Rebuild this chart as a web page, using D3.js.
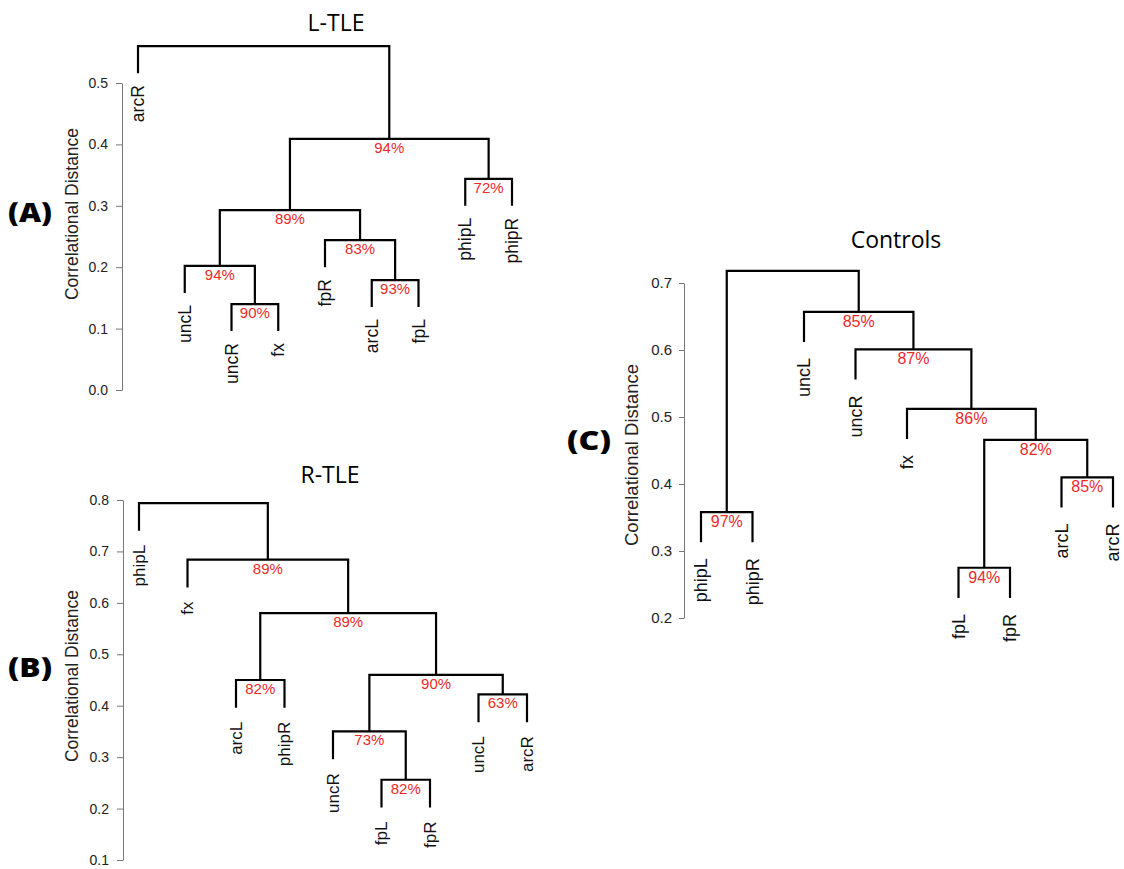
<!DOCTYPE html>
<html>
<head>
<meta charset="utf-8">
<script src="https://cdn.jsdelivr.net/npm/d3@7"></script>
<style>
  body { margin: 0; background: #fff; }
  svg text { font-family: "Liberation Sans", Arial, sans-serif; }
</style>
</head>
<body>
<svg id="chart" width="1124" height="869"></svg>
<script>
/*    ========    DATA    =========    */

// Merges follow hclust: a string is a leaf, a number points to an earlier merge (1-based)

// L-TLE
var ltleLeaves = ["arcR", "uncL", "uncR", "fx", "fpR", "arcL", "fpL", "phipL", "phipR"];
var ltleMerges = [["uncR", "fx"], ["uncL", 1], ["arcL", "fpL"], ["fpR", 3], [2, 4], ["phipL", "phipR"], [5, 6], ["arcR", 7]];
var ltleHeights = [0.140, 0.202, 0.179, 0.244, 0.293, 0.344, 0.409, 0.560];
var ltleSupport = ["90%", "94%", "93%", "83%", "89%", "72%", "94%", ""];
var ltleTicks = [0.0, 0.1, 0.2, 0.3, 0.4, 0.5];

// R-TLE
var rtleLeaves = ["phipL", "fx", "arcL", "phipR", "uncR", "fpL", "fpR", "uncL", "arcR"];
var rtleMerges = [["fpL", "fpR"], ["uncR", 1], ["uncL", "arcR"], [2, 3], ["arcL", "phipR"], [5, 4], ["fx", 6], ["phipL", 7]];
var rtleHeights = [0.256, 0.350, 0.422, 0.460, 0.450, 0.580, 0.684, 0.794];
var rtleSupport = ["82%", "73%", "63%", "90%", "82%", "89%", "89%", ""];
var rtleTicks = [0.1, 0.2, 0.3, 0.4, 0.5, 0.6, 0.7, 0.8];

// Controls
var ctrlLeaves = ["phipL", "phipR", "uncL", "uncR", "fx", "fpL", "fpR", "arcL", "arcR"];
var ctrlMerges = [["phipL", "phipR"], ["fpL", "fpR"], ["arcL", "arcR"], [2, 3], ["fx", 4], ["uncR", 5], ["uncL", 6], [1, 7]];
var ctrlHeights = [0.358, 0.275, 0.410, 0.466, 0.512, 0.601, 0.657, 0.718];
var ctrlSupport = ["97%", "94%", "85%", "82%", "86%", "87%", "85%", ""];
var ctrlTicks = [0.2, 0.3, 0.4, 0.5, 0.6, 0.7];

/*    ========    SETTINGS    =========    */

var svg = d3.select("#chart");

var RED = "#ec2a2a";

var panels = [
    {
        leaves: ltleLeaves, merges: ltleMerges, heights: ltleHeights, support: ltleSupport, ticks: ltleTicks,
        title: "L-TLE", tag: "(A)",
        xRange: [138, 512], yRange: [390, 83], axisX: 122, hang: 0.044, labelGap: 12,
        titlePos: [336, 31], tagPos: [8, 222], ylabPos: [72, 214],
        leafFont: 17.5, pctFont: 15, tickFont: 14, tickSize: 6, tickPad: 8, ylabFont: 17.5
    },
    {
        leaves: rtleLeaves, merges: rtleMerges, heights: rtleHeights, support: rtleSupport, ticks: rtleTicks,
        title: "R-TLE", tag: "(B)",
        xRange: [139, 527], yRange: [860, 500], axisX: 123, hang: 0.054, labelGap: 14,
        titlePos: [330, 483], tagPos: [8, 677], ylabPos: [72, 676],
        leafFont: 17, pctFont: 15, tickFont: 14, tickSize: 6, tickPad: 8, ylabFont: 17.5
    },
    {
        leaves: ctrlLeaves, merges: ctrlMerges, heights: ctrlHeights, support: ctrlSupport, ticks: ctrlTicks,
        title: "Controls", tag: "(C)",
        xRange: [701, 1113], yRange: [618, 283], axisX: 684, hang: 0.045, labelGap: 16,
        titlePos: [896, 248], tagPos: [567, 450], ylabPos: [632, 455],
        leafFont: 18, pctFont: 16, tickFont: 15, tickSize: 5, tickPad: 7, ylabFont: 18.5
    }
];

/*    ========    FUNCTIONS    =========    */

function drawPanel(p) {
    var x = d3.scalePoint().domain(p.leaves).range(p.xRange);
    var y = d3.scaleLinear()
        .domain([p.ticks[0], p.ticks[p.ticks.length - 1]])
        .range(p.yRange);

    var g = svg.append("g");

    // == Build the node table from the merge list == //
    var nodes = [];
    var leafTop = {};   // height of the merge each leaf hangs from

    p.merges.forEach(function(m, i) {
        var h = p.heights[i];
        var ends = m.map(function(c) {
            if (typeof c === "number") {
                return { x: nodes[c - 1].x, y: y(p.heights[c - 1]) };
            }
            leafTop[c] = h;
            return { x: x(c), y: y(h - p.hang) };
        });
        nodes.push({
            x: (ends[0].x + ends[1].x) / 2,
            y: y(h),
            ends: ends,
            label: p.support[i]
        });
    });

    // == Branches == //
    g.selectAll("path.branch")
        .data(nodes).enter()
        .append("path")
        .attr("class", "branch")
        .attr("fill", "none")
        .attr("stroke", "#000")
        .attr("stroke-width", 2.2)
        .attr("d", function(d) {
            return "M" + d.ends[0].x + "," + d.ends[0].y +
                "V" + d.y + "H" + d.ends[1].x + "V" + d.ends[1].y;
        });

    // == Support values == //
    g.selectAll("text.pct")
        .data(nodes.filter(function(d) { return d.label; })).enter()
        .append("text")
        .attr("class", "pct")
        .attr("x", function(d) { return d.x; })
        .attr("y", function(d) { return d.y + p.pctFont - 1; })
        .attr("text-anchor", "middle")
        .attr("fill", RED)
        .style("font-size", p.pctFont + "px")
        .text(function(d) { return d.label; });

    // == Leaf labels == //
    g.selectAll("text.leaf")
        .data(p.leaves).enter()
        .append("text")
        .attr("class", "leaf")
        .attr("transform", function(d) {
            return "translate(" + x(d) + "," + (y(leafTop[d] - p.hang) + p.labelGap) + ") rotate(-90)";
        })
        .attr("text-anchor", "end")
        .attr("dy", "0.35em")
        .attr("fill", "#111")
        .style("font-size", p.leafFont + "px")
        .text(function(d) { return d; });

    // == Axis == //
    var yAxis = d3.axisLeft(y)
        .tickValues(p.ticks)
        .tickFormat(d3.format(".1f"))
        .tickSize(p.tickSize)
        .tickSizeOuter(0)
        .tickPadding(p.tickPad);

    var ax = g.append("g")
        .attr("transform", "translate(" + p.axisX + ",0)")
        .call(yAxis);
    ax.select(".domain").attr("stroke", "#777");
    ax.selectAll(".tick line").attr("stroke", "#777");
    ax.selectAll(".tick text")
        .attr("fill", "#222")
        .style("font-family", "'Liberation Sans', Arial, sans-serif")
        .style("font-size", p.tickFont + "px");

    g.append("text")
        .attr("transform", "translate(" + p.ylabPos[0] + "," + p.ylabPos[1] + ") rotate(-90)")
        .attr("text-anchor", "middle")
        .attr("dy", "0.35em")
        .attr("fill", "#222")
        .style("font-size", p.ylabFont + "px")
        .text("Correlational Distance");

    // == Title and panel tag == //
    g.append("text")
        .attr("x", p.titlePos[0])
        .attr("y", p.titlePos[1])
        .attr("text-anchor", "middle")
        .style("font-family", "'Open Sans', sans-serif")
        .style("font-size", "23px")
        .text(p.title);

    g.append("text")
        .attr("x", p.tagPos[0])
        .attr("y", p.tagPos[1])
        .attr("textLength", 44)
        .attr("lengthAdjust", "spacingAndGlyphs")
        .style("font-family", "'Open Sans', sans-serif")
        .style("font-weight", "800")
        .style("font-size", "27px")
        .text(p.tag);
}

/*    ========    RUN    =========    */

panels.forEach(drawPanel);
</script>
</body>
</html>
